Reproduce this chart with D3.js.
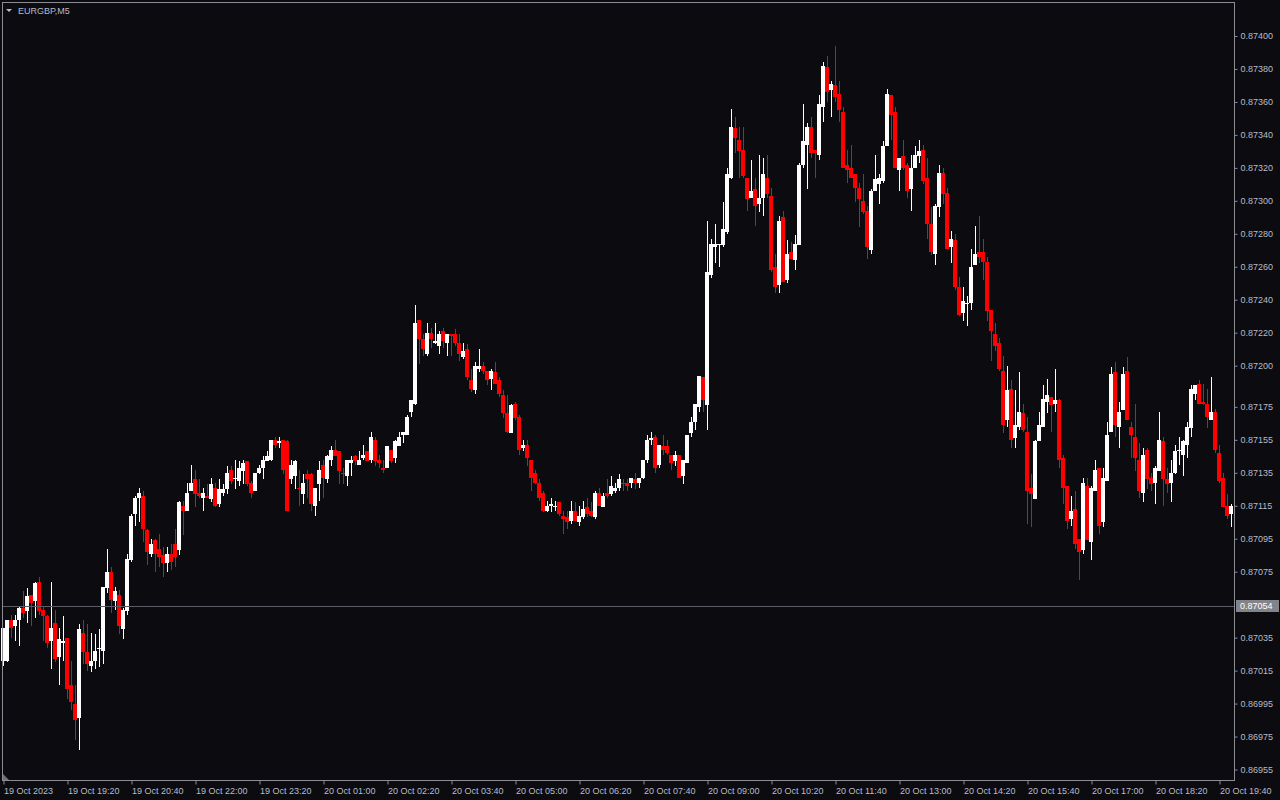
<!DOCTYPE html>
<html><head><meta charset="utf-8">
<script src="https://cdn.jsdelivr.net/npm/d3@7"></script>
<style>
html,body{margin:0;padding:0;background:#0b0b10;}
svg{display:block;}
text{font-family:"Liberation Sans",Arial,sans-serif;}
</style></head>
<body>
<svg id="c" width="1280" height="800"></svg>
<script>
const symbolTitle = "EURGBP,M5";
const timeLabels = ["19 Oct 2023","19 Oct 19:20","19 Oct 20:40","19 Oct 22:00","19 Oct 23:20","20 Oct 01:00","20 Oct 02:20","20 Oct 03:40","20 Oct 05:00","20 Oct 06:20","20 Oct 07:40","20 Oct 09:00","20 Oct 10:20","20 Oct 11:40","20 Oct 13:00","20 Oct 14:20","20 Oct 15:40","20 Oct 17:00","20 Oct 18:20","20 Oct 19:40"];
const barsPerLabel = 16;
const priceTicks = [0.87400,0.87380,0.87360,0.87340,0.87320,0.87300,0.87280,0.87260,0.87240,0.87220,0.87200,0.87175,0.87155,0.87135,0.87115,0.87095,0.87075,0.87035,0.87015,0.86995,0.86975,0.86955];
const bidPrice = 0.87054;
const priceMin = 0.86955, priceMax = 0.87400;

const open = [0.87021,0.87021,0.87046,0.87042,0.87046,0.87053,0.87051,0.87061,0.87057,0.87069,0.87052,0.87048,0.87033,0.87044,0.87023,0.87032,0.87035,0.87006,0.86995,0.86986,
0.87038,0.87026,0.87018,0.87021,0.87028,0.87027,0.87065,0.87075,0.87057,0.87061,0.87040,0.87051,0.87082,0.87110,0.87120,0.87121,0.87100,0.87086,0.87094,0.87089,
0.87085,0.87080,0.87086,0.87092,0.87088,0.87115,0.87112,0.87124,0.87131,0.87123,0.87120,0.87121,0.87119,0.87126,0.87116,0.87123,0.87125,0.87137,0.87131,0.87130,
0.87136,0.87142,0.87129,0.87124,0.87135,0.87138,0.87142,0.87143,0.87155,0.87153,0.87155,0.87154,0.87131,0.87133,0.87126,0.87122,0.87134,0.87134,0.87115,0.87128,
0.87140,0.87131,0.87143,0.87149,0.87148,0.87135,0.87133,0.87141,0.87145,0.87140,0.87144,0.87148,0.87143,0.87155,0.87143,0.87138,0.87138,0.87149,0.87144,0.87151,
0.87158,0.87158,0.87172,0.87177,0.87228,0.87216,0.87207,0.87220,0.87214,0.87212,0.87221,0.87214,0.87219,0.87219,0.87214,0.87205,0.87210,0.87191,0.87185,0.87198,
0.87200,0.87197,0.87192,0.87196,0.87191,0.87182,0.87171,0.87159,0.87177,0.87169,0.87150,0.87152,0.87143,0.87135,0.87129,0.87123,0.87112,0.87115,0.87114,0.87117,
0.87109,0.87108,0.87106,0.87112,0.87105,0.87108,0.87114,0.87112,0.87108,0.87123,0.87114,0.87123,0.87122,0.87124,0.87126,0.87129,0.87129,0.87129,0.87131,0.87129,
0.87132,0.87143,0.87155,0.87157,0.87140,0.87151,0.87151,0.87146,0.87142,0.87146,0.87133,0.87141,0.87159,0.87166,0.87175,0.87193,0.87176,0.87255,0.87272,0.87273,
0.87273,0.87281,0.87314,0.87344,0.87337,0.87331,0.87314,0.87302,0.87307,0.87298,0.87302,0.87314,0.87303,0.87260,0.87249,0.87290,0.87252,0.87269,0.87264,0.87273,
0.87322,0.87334,0.87345,0.87331,0.87328,0.87357,0.87381,0.87367,0.87370,0.87365,0.87354,0.87322,0.87320,0.87316,0.87308,0.87300,0.87294,0.87270,0.87306,0.87310,
0.87312,0.87333,0.87364,0.87354,0.87319,0.87327,0.87322,0.87307,0.87320,0.87327,0.87331,0.87314,0.87286,0.87268,0.87296,0.87317,0.87305,0.87272,0.87276,0.87248,
0.87232,0.87238,0.87238,0.87261,0.87269,0.87269,0.87263,0.87234,0.87219,0.87214,0.87197,0.87167,0.87186,0.87156,0.87163,0.87171,0.87160,0.87126,0.87119,0.87154,
0.87163,0.87178,0.87181,0.87177,0.87179,0.87144,0.87127,0.87107,0.87113,0.87095,0.87088,0.87127,0.87093,0.87124,0.87138,0.87105,0.87130,0.87160,0.87196,0.87163,
0.87173,0.87197,0.87163,0.87157,0.87143,0.87123,0.87149,0.87132,0.87129,0.87136,0.87154,0.87131,0.87129,0.87135,0.87149,0.87146,0.87152,0.87162,0.87183,0.87189,
0.87178,0.87177,0.87167,0.87172,0.87147,0.87132,0.87115,0.87110];

const high = [0.87041,0.87046,0.87049,0.87049,0.87054,0.87063,0.87065,0.87061,0.87069,0.87072,0.87054,0.87049,0.87069,0.87052,0.87041,0.87048,0.87035,0.87021,0.87006,0.87043,
0.87046,0.87043,0.87038,0.87037,0.87040,0.87066,0.87089,0.87078,0.87066,0.87064,0.87053,0.87086,0.87110,0.87121,0.87126,0.87124,0.87101,0.87095,0.87095,0.87098,
0.87090,0.87090,0.87092,0.87101,0.87118,0.87118,0.87129,0.87140,0.87137,0.87131,0.87126,0.87128,0.87132,0.87129,0.87131,0.87128,0.87139,0.87139,0.87143,0.87142,
0.87143,0.87142,0.87130,0.87135,0.87140,0.87145,0.87148,0.87155,0.87157,0.87157,0.87155,0.87155,0.87143,0.87143,0.87137,0.87134,0.87137,0.87135,0.87126,0.87142,
0.87143,0.87146,0.87151,0.87155,0.87148,0.87138,0.87143,0.87145,0.87146,0.87148,0.87152,0.87148,0.87160,0.87157,0.87146,0.87143,0.87151,0.87149,0.87155,0.87160,
0.87160,0.87170,0.87179,0.87237,0.87228,0.87219,0.87226,0.87223,0.87226,0.87221,0.87223,0.87219,0.87219,0.87222,0.87219,0.87214,0.87213,0.87198,0.87202,0.87210,
0.87202,0.87197,0.87198,0.87202,0.87193,0.87185,0.87182,0.87177,0.87178,0.87170,0.87155,0.87155,0.87143,0.87137,0.87131,0.87124,0.87118,0.87120,0.87118,0.87117,
0.87112,0.87112,0.87118,0.87117,0.87115,0.87118,0.87120,0.87117,0.87124,0.87126,0.87123,0.87131,0.87133,0.87129,0.87134,0.87131,0.87131,0.87132,0.87135,0.87132,
0.87143,0.87158,0.87160,0.87158,0.87152,0.87158,0.87155,0.87146,0.87148,0.87146,0.87143,0.87158,0.87169,0.87177,0.87194,0.87193,0.87288,0.87277,0.87286,0.87274,
0.87299,0.87320,0.87356,0.87351,0.87345,0.87345,0.87314,0.87325,0.87314,0.87328,0.87326,0.87328,0.87308,0.87268,0.87291,0.87294,0.87276,0.87275,0.87279,0.87323,
0.87359,0.87347,0.87351,0.87331,0.87364,0.87384,0.87388,0.87373,0.87394,0.87373,0.87357,0.87331,0.87334,0.87316,0.87311,0.87316,0.87297,0.87307,0.87328,0.87316,
0.87336,0.87368,0.87364,0.87357,0.87326,0.87337,0.87323,0.87328,0.87333,0.87337,0.87334,0.87326,0.87296,0.87298,0.87322,0.87320,0.87308,0.87282,0.87280,0.87254,
0.87248,0.87242,0.87271,0.87285,0.87291,0.87277,0.87266,0.87234,0.87226,0.87217,0.87206,0.87200,0.87191,0.87185,0.87196,0.87177,0.87169,0.87134,0.87155,0.87172,
0.87188,0.87192,0.87181,0.87198,0.87180,0.87146,0.87127,0.87121,0.87124,0.87095,0.87132,0.87132,0.87127,0.87143,0.87138,0.87138,0.87166,0.87199,0.87202,0.87178,
0.87199,0.87205,0.87166,0.87177,0.87153,0.87150,0.87150,0.87135,0.87139,0.87172,0.87157,0.87138,0.87143,0.87152,0.87157,0.87155,0.87166,0.87188,0.87188,0.87191,
0.87189,0.87186,0.87193,0.87174,0.87152,0.87135,0.87122,0.87116];

const low = [0.87018,0.87020,0.87035,0.87033,0.87030,0.87047,0.87044,0.87042,0.87047,0.87049,0.87033,0.87029,0.87016,0.87020,0.87006,0.87021,0.86998,0.86991,0.86973,0.86967,
0.87019,0.87015,0.87014,0.87016,0.87017,0.87019,0.87062,0.87050,0.87052,0.87037,0.87034,0.87049,0.87081,0.87103,0.87105,0.87093,0.87079,0.87084,0.87075,0.87078,
0.87072,0.87075,0.87076,0.87078,0.87085,0.87097,0.87112,0.87124,0.87114,0.87120,0.87112,0.87120,0.87117,0.87114,0.87114,0.87121,0.87122,0.87128,0.87125,0.87127,
0.87128,0.87127,0.87120,0.87124,0.87134,0.87131,0.87142,0.87142,0.87150,0.87150,0.87134,0.87112,0.87128,0.87125,0.87115,0.87116,0.87120,0.87112,0.87109,0.87118,
0.87120,0.87129,0.87139,0.87145,0.87128,0.87128,0.87127,0.87133,0.87140,0.87140,0.87143,0.87142,0.87141,0.87139,0.87138,0.87135,0.87138,0.87141,0.87141,0.87151,
0.87153,0.87158,0.87169,0.87176,0.87201,0.87206,0.87206,0.87211,0.87213,0.87207,0.87211,0.87206,0.87206,0.87212,0.87203,0.87204,0.87191,0.87184,0.87183,0.87196,
0.87195,0.87188,0.87185,0.87189,0.87181,0.87168,0.87159,0.87159,0.87167,0.87146,0.87148,0.87139,0.87124,0.87128,0.87118,0.87111,0.87111,0.87111,0.87112,0.87109,
0.87098,0.87101,0.87104,0.87106,0.87103,0.87107,0.87108,0.87108,0.87107,0.87115,0.87114,0.87120,0.87121,0.87123,0.87124,0.87124,0.87124,0.87126,0.87125,0.87126,
0.87131,0.87141,0.87152,0.87135,0.87138,0.87146,0.87146,0.87137,0.87139,0.87132,0.87128,0.87141,0.87157,0.87161,0.87172,0.87172,0.87161,0.87253,0.87262,0.87260,
0.87272,0.87280,0.87313,0.87329,0.87314,0.87314,0.87294,0.87302,0.87285,0.87293,0.87291,0.87302,0.87257,0.87244,0.87244,0.87251,0.87250,0.87265,0.87258,0.87273,
0.87320,0.87307,0.87326,0.87314,0.87325,0.87348,0.87360,0.87351,0.87360,0.87348,0.87320,0.87311,0.87314,0.87299,0.87284,0.87292,0.87265,0.87268,0.87306,0.87298,
0.87311,0.87333,0.87337,0.87320,0.87306,0.87319,0.87302,0.87294,0.87320,0.87323,0.87310,0.87277,0.87267,0.87261,0.87290,0.87298,0.87271,0.87262,0.87246,0.87230,
0.87227,0.87224,0.87234,0.87261,0.87262,0.87252,0.87227,0.87203,0.87209,0.87197,0.87159,0.87163,0.87150,0.87150,0.87161,0.87160,0.87104,0.87102,0.87119,0.87154,
0.87163,0.87171,0.87160,0.87172,0.87138,0.87116,0.87101,0.87103,0.87089,0.87070,0.87086,0.87094,0.87082,0.87124,0.87098,0.87102,0.87130,0.87160,0.87157,0.87150,
0.87173,0.87167,0.87144,0.87136,0.87120,0.87117,0.87125,0.87124,0.87116,0.87136,0.87115,0.87123,0.87117,0.87134,0.87140,0.87133,0.87144,0.87157,0.87179,0.87177,
0.87176,0.87162,0.87167,0.87147,0.87129,0.87114,0.87107,0.87102];

const close = [0.87041,0.87046,0.87041,0.87046,0.87053,0.87050,0.87060,0.87056,0.87068,0.87051,0.87048,0.87032,0.87041,0.87022,0.87034,0.87033,0.87004,0.86996,0.86985,0.87040,
0.87026,0.87019,0.87021,0.87027,0.87029,0.87066,0.87075,0.87058,0.87063,0.87042,0.87052,0.87083,0.87109,0.87120,0.87123,0.87101,0.87087,0.87092,0.87086,0.87084,
0.87080,0.87086,0.87081,0.87084,0.87117,0.87112,0.87123,0.87129,0.87122,0.87121,0.87123,0.87120,0.87128,0.87115,0.87125,0.87125,0.87135,0.87130,0.87132,0.87138,
0.87141,0.87128,0.87123,0.87135,0.87138,0.87143,0.87145,0.87155,0.87152,0.87154,0.87137,0.87112,0.87140,0.87142,0.87125,0.87129,0.87131,0.87116,0.87126,0.87137,
0.87132,0.87145,0.87149,0.87145,0.87136,0.87134,0.87143,0.87143,0.87142,0.87143,0.87146,0.87142,0.87157,0.87142,0.87141,0.87137,0.87151,0.87142,0.87154,0.87157,
0.87160,0.87169,0.87179,0.87226,0.87216,0.87210,0.87220,0.87216,0.87215,0.87219,0.87215,0.87219,0.87218,0.87214,0.87207,0.87209,0.87193,0.87186,0.87200,0.87200,
0.87197,0.87191,0.87197,0.87189,0.87183,0.87171,0.87160,0.87176,0.87168,0.87149,0.87152,0.87144,0.87132,0.87129,0.87120,0.87112,0.87115,0.87116,0.87115,0.87110,
0.87107,0.87105,0.87112,0.87106,0.87109,0.87113,0.87110,0.87109,0.87123,0.87115,0.87121,0.87121,0.87127,0.87126,0.87131,0.87128,0.87127,0.87132,0.87129,0.87132,
0.87143,0.87155,0.87156,0.87138,0.87152,0.87149,0.87147,0.87141,0.87146,0.87132,0.87143,0.87158,0.87166,0.87177,0.87194,0.87179,0.87257,0.87274,0.87274,0.87274,
0.87283,0.87316,0.87345,0.87338,0.87330,0.87315,0.87301,0.87306,0.87297,0.87302,0.87316,0.87304,0.87258,0.87248,0.87288,0.87251,0.87268,0.87265,0.87274,0.87322,
0.87336,0.87345,0.87329,0.87329,0.87359,0.87382,0.87366,0.87371,0.87363,0.87355,0.87320,0.87319,0.87314,0.87308,0.87301,0.87293,0.87272,0.87306,0.87313,0.87314,
0.87333,0.87365,0.87352,0.87320,0.87326,0.87320,0.87306,0.87320,0.87328,0.87330,0.87312,0.87286,0.87269,0.87297,0.87317,0.87304,0.87271,0.87277,0.87248,0.87231,
0.87239,0.87238,0.87260,0.87268,0.87266,0.87263,0.87233,0.87221,0.87212,0.87198,0.87164,0.87185,0.87155,0.87164,0.87172,0.87161,0.87124,0.87122,0.87154,0.87164,
0.87180,0.87182,0.87176,0.87179,0.87143,0.87126,0.87106,0.87112,0.87092,0.87087,0.87129,0.87094,0.87126,0.87137,0.87103,0.87132,0.87158,0.87195,0.87164,0.87172,
0.87195,0.87167,0.87158,0.87144,0.87124,0.87146,0.87131,0.87128,0.87138,0.87155,0.87131,0.87128,0.87135,0.87148,0.87149,0.87154,0.87163,0.87186,0.87188,0.87177,
0.87177,0.87169,0.87172,0.87149,0.87130,0.87114,0.87109,0.87115];

const N = open.length;
const svg = d3.select("#c");
const BG = "#0b0b10", FRAME = "#8c8c94", TXT = "#b9bcc6", BULL = "#ffffff", BEAR = "#ff0000";

svg.append("rect").attr("width",1280).attr("height",800).attr("fill",BG);

const plotLeft = 2, plotRight = 1234, plotTop = 2, plotBottom = 780;
const x = d3.scaleLinear().domain([0, N-1]).range([3, 3 + 4*(N-1)]);
const y = d3.scaleLinear().domain([priceMin, priceMax]).range([769.5, 36]);

const g = svg.append("g");
const bars = d3.range(N).map(i => ({i, o:open[i], h:high[i], l:low[i], c:close[i]}));
const col = d => d.c >= d.o ? BULL : BEAR;

// wicks
g.selectAll("rect.wick").data(bars).join("rect").attr("class","wick")
  .attr("x", d => Math.round(x(d.i)))
  .attr("width", 1)
  .attr("y", d => Math.round(y(Math.max(d.h, d.o, d.c))))
  .attr("height", d => Math.max(1, Math.round(y(Math.min(d.l, d.o, d.c))) - Math.round(y(Math.max(d.h, d.o, d.c)))))
  .attr("fill", col);
// bodies
g.selectAll("rect.body").data(bars).join("rect").attr("class","body")
  .attr("x", d => Math.round(x(d.i)) - 2)
  .attr("width", 4)
  .attr("y", d => Math.round(y(Math.max(d.o, d.c))))
  .attr("height", d => Math.max(1, Math.round(y(Math.min(d.o, d.c))) - Math.round(y(Math.max(d.o, d.c)))))
  .attr("fill", col);

// bid line
svg.append("line").attr("x1", plotLeft).attr("x2", plotRight)
  .attr("y1", Math.round(y(bidPrice)) + 0.5).attr("y2", Math.round(y(bidPrice)) + 0.5)
  .attr("stroke", "#5c5c66").attr("stroke-width", 1);

// frame
svg.append("rect").attr("x", plotLeft + 0.5).attr("y", plotTop + 0.5)
  .attr("width", plotRight - plotLeft).attr("height", plotBottom - plotTop)
  .attr("fill", "none").attr("stroke", FRAME).attr("stroke-width", 1);

// right price axis
const yAxis = d3.axisRight(y).tickValues(priceTicks).tickFormat(d3.format(".5f")).tickSize(3).tickPadding(3);
const ya = svg.append("g").attr("transform", `translate(${plotRight + 0.5},0)`).call(yAxis);
ya.select(".domain").remove();
ya.selectAll(".tick line").attr("stroke", FRAME);
ya.selectAll(".tick text").attr("fill", TXT).attr("font-size", 9).attr("font-family", '"Liberation Sans",Arial,sans-serif');

// bid label
const by = Math.round(y(bidPrice));
svg.append("rect").attr("x", plotRight + 2).attr("y", by - 6).attr("width", 43).attr("height", 12).attr("fill", "#83838a");
svg.append("text").attr("x", plotRight + 6).attr("y", by).attr("dy", "0.35em")
  .attr("fill", "#ffffff").attr("font-size", 9).text(d3.format(".5f")(bidPrice));

// bottom time axis
const tickIdx = timeLabels.map((_, k) => k * barsPerLabel);
const xAxis = d3.axisBottom(x).tickValues(tickIdx).tickFormat((d, k) => timeLabels[k]).tickSize(4).tickPadding(3);
const xa = svg.append("g").attr("transform", `translate(0.5,${plotBottom + 0.5})`).call(xAxis);
xa.select(".domain").remove();
xa.selectAll(".tick line").attr("stroke", FRAME);
xa.selectAll(".tick text").attr("fill", TXT).attr("font-size", 9).attr("text-anchor", "start").attr("x", 0)
  .attr("font-family", '"Liberation Sans",Arial,sans-serif');

// small corner marker
svg.append("path").attr("d", `M3,${plotBottom-6}L3,${plotBottom}L9,${plotBottom}Z`).attr("fill", "#70707a");

// title
svg.append("path").attr("d", "M6,9L12,9L9,12Z").attr("fill", TXT);
svg.append("text").attr("x", 18).attr("y", 11).attr("dy", "0.35em").attr("fill", TXT).attr("font-size", 9).text(symbolTitle);
</script>
</body></html>
